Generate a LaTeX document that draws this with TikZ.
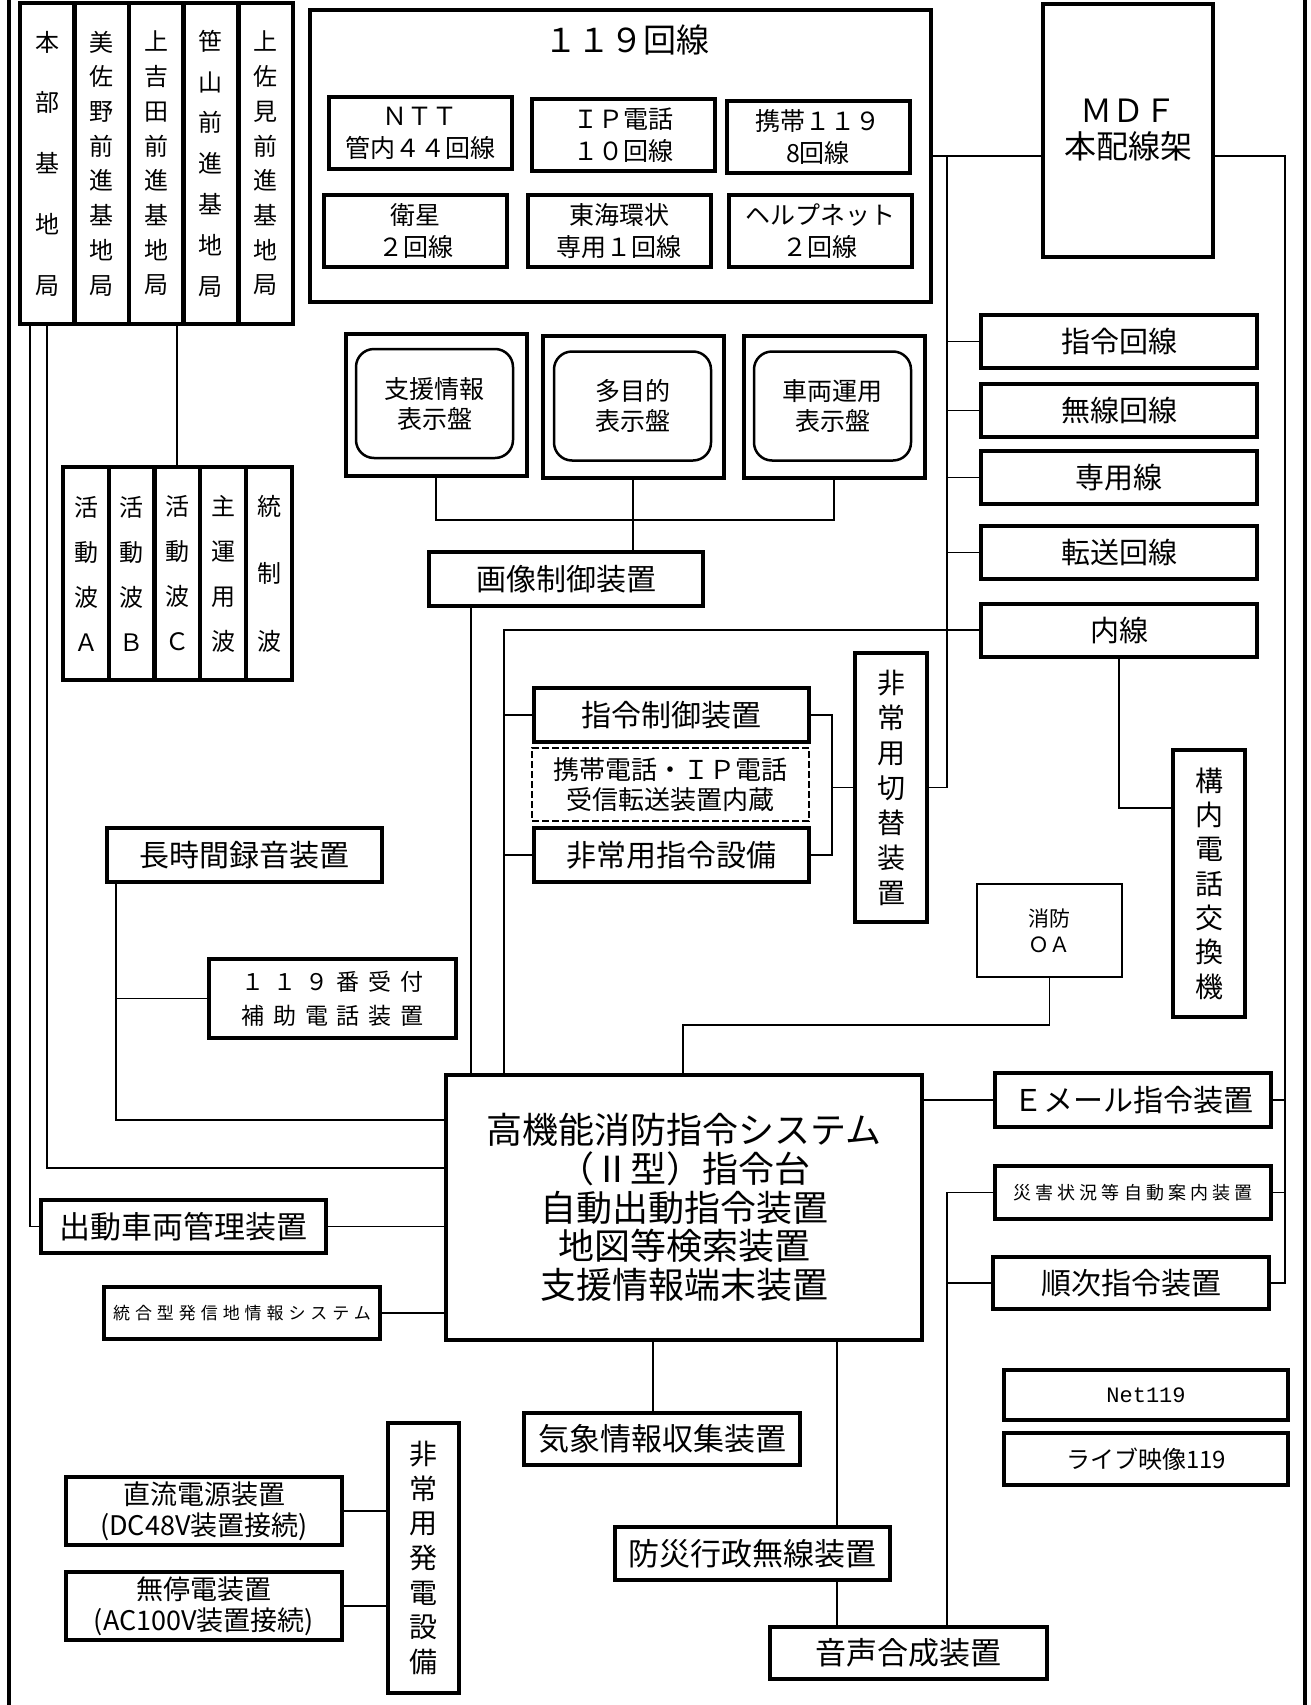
\documentclass[tikz,border=0pt]{standalone}
\usepackage{fontspec}
\setmainfont{Noto Sans CJK JP}
\newfontfamily\netfont{Liberation Mono}
\newcommand{\fsz}[2]{\fontsize{#1}{#2}\selectfont}

\tikzset{
  equip/.style={draw, line width=4pt, align=center, inner sep=0pt},
  thinequip/.style={draw, line width=1.8pt, align=center, inner sep=0pt},
  dashequip/.style={draw, line width=2.5pt, dash pattern=on 7pt off 3pt, align=center, inner sep=0pt},
  screen/.style={draw, line width=2.5pt, rounded corners=18pt, align=center, inner sep=0pt,
    minimum width=157pt, minimum height=109pt, font={\fsz{25}{30}}},
  dispout/.style={equip, minimum width=181pt, minimum height=142pt},
  station/.style={equip, minimum width=54pt, minimum height=321pt},
  wave/.style={equip, minimum width=46pt, minimum height=213pt},
  subline/.style={equip, minimum width=183pt, minimum height=72pt, font={\fsz{25}{32}}},
  rline/.style={equip, minimum width=276pt, minimum height=53pt, font={\fsz{29}{34}}},
  wire/.style={line width=1.6pt}
}

\begin{document}
\begin{tikzpicture}[x=1pt,y=-1pt]
    \useasboundingbox (0,0) rectangle (1311,1705);

    % outer frame
    \draw[line width=4pt] (9,0) -- (9,1705);
    \draw[line width=4pt] (1305,0) -- (1305,1705);

    % base stations
    \node[station, font={\fsz{24}{60.75}}] (hq) at (47,163.5) {本\\部\\基\\地\\局};
    \node[station, font={\fsz{24}{34.7}}] (misano) at (101.5,163.5) {美\\佐\\野\\前\\進\\基\\地\\局};
    \node[station, font={\fsz{24}{34.7}}] (kami) at (156,163.5) {上\\吉\\田\\前\\進\\基\\地\\局};
    \node[station, font={\fsz{24}{40.8}}] (sasa) at (210.5,163.5) {笹\\山\\前\\進\\基\\地\\局};
    \node[station, font={\fsz{24}{34.7}}] (kamisa) at (265.5,163.5) {上\\佐\\見\\前\\進\\基\\地\\局};

    % radio waves
    \node[wave, font={\fsz{24}{45}}] (katsuA) at (86,573.5) {活\\動\\波\\Ａ};
    \node[wave, font={\fsz{24}{45}}] (katsuB) at (131.5,573.5) {活\\動\\波\\Ｂ};
    \node[wave, font={\fsz{24}{45}}] (katsuC) at (177,573.5) {活\\動\\波\\Ｃ};
    \node[wave, font={\fsz{24}{45}}] (shuun) at (223,573.5) {主\\運\\用\\波};
    \node[wave, font={\fsz{24}{67.5}}] (tousei) at (269,573.5) {統\\制\\波};

    % 119 lines
    \node[equip, minimum width=621pt, minimum height=292pt] (k119) at (620.5,156) {};
    \node[font={\fsz{33}{40}}] (k119t) at (627,40) {１１９回線};
    \node[subline] (ntt) at (420,133) {ＮＴＴ\\管内４４回線};
    \node[subline] (ipt) at (623,135) {ＩＰ電話\\１０回線};
    \node[subline] (mob) at (818,136.5) {携帯１１９\\8回線};
    \node[subline] (sat) at (415.5,231) {衛星\\２回線};
    \node[subline] (tokai) at (619,231) {東海環状\\専用１回線};
    \node[subline] (help) at (820,231) {ヘルプネット\\２回線};

    % MDF and line boxes
    \node[equip, minimum width=170pt, minimum height=253pt, font={\fsz{32}{36}}] (mdf) at (1128,130.5) {ＭＤＦ\\本配線架};
    \node[rline] (shirei) at (1119,341.5) {指令回線};
    \node[rline] (musen) at (1119,410.5) {無線回線};
    \node[rline] (senyo) at (1119,477.5) {専用線};
    \node[rline] (tenso) at (1119,552.5) {転送回線};
    \node[rline] (naisen) at (1119,630) {内線};

    % display boards
    \node[dispout] (disp1) at (436,405) {};
    \node[screen] (scr1) at (434.5,403.5) {支援情報\\表示盤};
    \node[dispout] (disp2) at (633,406.5) {};
    \node[screen] (scr2) at (632.5,406) {多目的\\表示盤};
    \node[dispout] (disp3) at (834,406.5) {};
    \node[screen] (scr3) at (832.5,406) {車両運用\\表示盤};
    \node[equip, minimum width=274pt, minimum height=54pt, font={\fsz{30}{34}}] (gazo) at (566,579) {画像制御装置};

    % command control
    \node[equip, minimum width=275pt, minimum height=54pt, font={\fsz{30}{34}}] (seigyo) at (671.5,715) {指令制御装置};
    \node[dashequip, minimum width=277pt, minimum height=73pt, font={\fsz{26}{30}}] (keitai) at (670.5,784.5) {携帯電話・ＩＰ電話\\受信転送装置内蔵};
    \node[equip, minimum width=275pt, minimum height=54pt, font={\fsz{30}{34}}] (hijo) at (671.5,855) {非常用指令設備};
    \node[equip, minimum width=72pt, minimum height=269pt, font={\fsz{28}{35}}] (kirikae) at (891,787.5) {非\\常\\用\\切\\替\\装\\置};
    \node[equip, minimum width=72pt, minimum height=267pt, font={\fsz{28}{34.3}}] (kounai) at (1209,883.5) {構\\内\\電\\話\\交\\換\\機};
    \node[thinequip, minimum width=145pt, minimum height=93pt, font={\fsz{21}{26}}] (oa) at (1049.5,930.5) {消防\\ＯＡ};

    % recorders
    \node[equip, minimum width=275pt, minimum height=54pt, font={\fsz{30}{34}}] (chou) at (244.5,855) {長時間録音装置};
    \node[equip, minimum width=247pt, minimum height=79pt, font={\fsz{23}{34}\addfontfeature{LetterSpace=38}}] (uketsuke) at (332.5,998.5) {１１９番受付\\補助電話装置};

    % main system
    \node[equip, minimum width=476pt, minimum height=265pt, font={\fsz{36}{38.7}}] (main) at (684,1207.5)
        {高機能消防指令システム\\（Ⅱ型）指令台\\自動出動指令装置\\地図等検索装置\\支援情報端末装置};
    \node[equip, minimum width=285pt, minimum height=53pt, font={\fsz{31}{34}}] (shutsudo) at (183.5,1226.5) {出動車両管理装置};
    \node[equip, minimum width=276pt, minimum height=52pt, font={\fsz{17}{20}\addfontfeature{LetterSpace=29}}] (tougou) at (242,1313) {統合型発信地情報システム};
    \node[equip, minimum width=276pt, minimum height=54pt, font={\fsz{30}{34}}] (email) at (1133,1100) {Ｅメール指令装置};
    \node[equip, minimum width=276pt, minimum height=53pt, font={\fsz{18}{20}\addfontfeature{LetterSpace=23}}] (saigai) at (1133,1192.5) {災害状況等自動案内装置};
    \node[equip, minimum width=276pt, minimum height=52pt, font={\fsz{30}{34}}] (junji) at (1131,1283) {順次指令装置};
    \node[equip, minimum width=284pt, minimum height=50pt, font={\netfont\fsz{22}{26}}] (net) at (1146,1395) {Net119};
    \node[equip, minimum width=284pt, minimum height=52pt, font={\fsz{24}{28}}] (live) at (1146,1459) {ライブ映像119};

    % bottom devices
    \node[equip, minimum width=276pt, minimum height=52pt, font={\fsz{31}{34}}] (kishou) at (662,1439) {気象情報収集装置};
    \node[equip, minimum width=275pt, minimum height=53pt, font={\fsz{31}{34}}] (bousai) at (752.5,1553.5) {防災行政無線装置};
    \node[equip, minimum width=277pt, minimum height=52pt, font={\fsz{31}{34}}] (onsei) at (908.5,1653) {音声合成装置};

    % power
    \node[equip, minimum width=71pt, minimum height=270pt, font={\fsz{28}{34.7}}] (hatsuden) at (423.5,1558) {非\\常\\用\\発\\電\\設\\備};
    \node[equip, minimum width=276pt, minimum height=68pt, font={\fsz{27}{31}}] (dc) at (204,1511) {直流電源装置\\(DC48V装置接続)};
    \node[equip, minimum width=276pt, minimum height=68pt, font={\fsz{27}{31}}] (ups) at (204,1606) {無停電装置\\(AC100V装置接続)};

    % helper points
    \coordinate (busL) at (947,156);
    \coordinate (busR) at (1285,156);
    \coordinate (busS) at ([xshift=-46pt]saigai.west);
    \coordinate (nsx) at ([xshift=60pt]main.north west);
    \coordinate (oaq) at ([xshift=239pt]main.north west);
    \coordinate (gzq) at ([xshift=44pt]gazo.south west);
    \coordinate (recx) at ([xshift=11pt]chou.south west);
    \coordinate (hq1) at ([xshift=-17pt]hq.south);
    \coordinate (kq) at ([xshift=-9pt]kishou.north);
    \coordinate (bq) at ([xshift=84.5pt]bousai.north);
    \coordinate (swx) at ([xshift=21pt]seigyo.east);
    \coordinate (dispbus) at (635,520);

    % MDF connections
    \draw[wire] (k119.east) -- (mdf.west |- k119.east);
    \draw[wire] (busL) -- (busL |- kirikae.east) -- (kirikae.east);
    \foreach \n in {shirei,musen,senyo,tenso}
        \draw[wire] (\n.west) -- (\n.west -| busL);
    \draw[wire] (mdf.east |- busR) -- (busR) |- (junji.east);
    \draw[wire] (email.east) -- (email.east -| busR);
    \draw[wire] (saigai.east) -- (saigai.east -| busR);

    % extension line
    \draw[wire] (naisen.west) -| (nsx);
    \draw[wire] (seigyo.west) -- (seigyo.west -| nsx);
    \draw[wire] (hijo.west) -- (hijo.west -| nsx);
    \draw[wire] (naisen.south) |- ([yshift=75.5pt]kounai.west);

    % switch
    \draw[wire] (seigyo.east) -- (swx) |- (hijo.east);
    \draw[wire] (swx |- kirikae.west) -- (kirikae.west);

    % displays
    \draw[wire] (disp1.south) |- (dispbus) -| (disp3.south);
    \draw[wire] (disp2.south) -- (disp2.south |- gazo.north);
    \draw[wire] (gzq) -- (gzq |- main.north);

    % OA
    \draw[wire] (oa.south) -- ++(0,47) -| (oaq);

    % stations
    \draw[wire] (katsuC.north) -- (katsuC.north |- kami.south);
    \draw[wire] (hq1) |- (shutsudo.west);
    \draw[wire] (hq.south) |- ([yshift=39.5pt]main.west);

    % recorders
    \draw[wire] (recx) |- ([yshift=87.5pt]main.west);
    \draw[wire] (uketsuke.west) -- (uketsuke.west -| recx);
    \draw[wire] (shutsudo.east) -- (shutsudo.east -| main.west);
    \draw[wire] (tougou.east) -- (tougou.east -| main.west);

    % right side
    \draw[wire] (email.west) -- (email.west -| main.east);
    \draw[wire] (saigai.west) -- (busS) -- (busS |- onsei.north);
    \draw[wire] (junji.west) -- (junji.west -| busS);

    % bottom
    \draw[wire] (kq) -- (kq |- main.south);
    \draw[wire] (bq |- main.south) -- (bq);
    \draw[wire] (bousai.south -| bq) -- (bq |- onsei.north);

    % power
    \draw[wire] (dc.east) -- (dc.east -| hatsuden.west);
    \draw[wire] (ups.east) -- (ups.east -| hatsuden.west);

\end{tikzpicture}
\end{document}
